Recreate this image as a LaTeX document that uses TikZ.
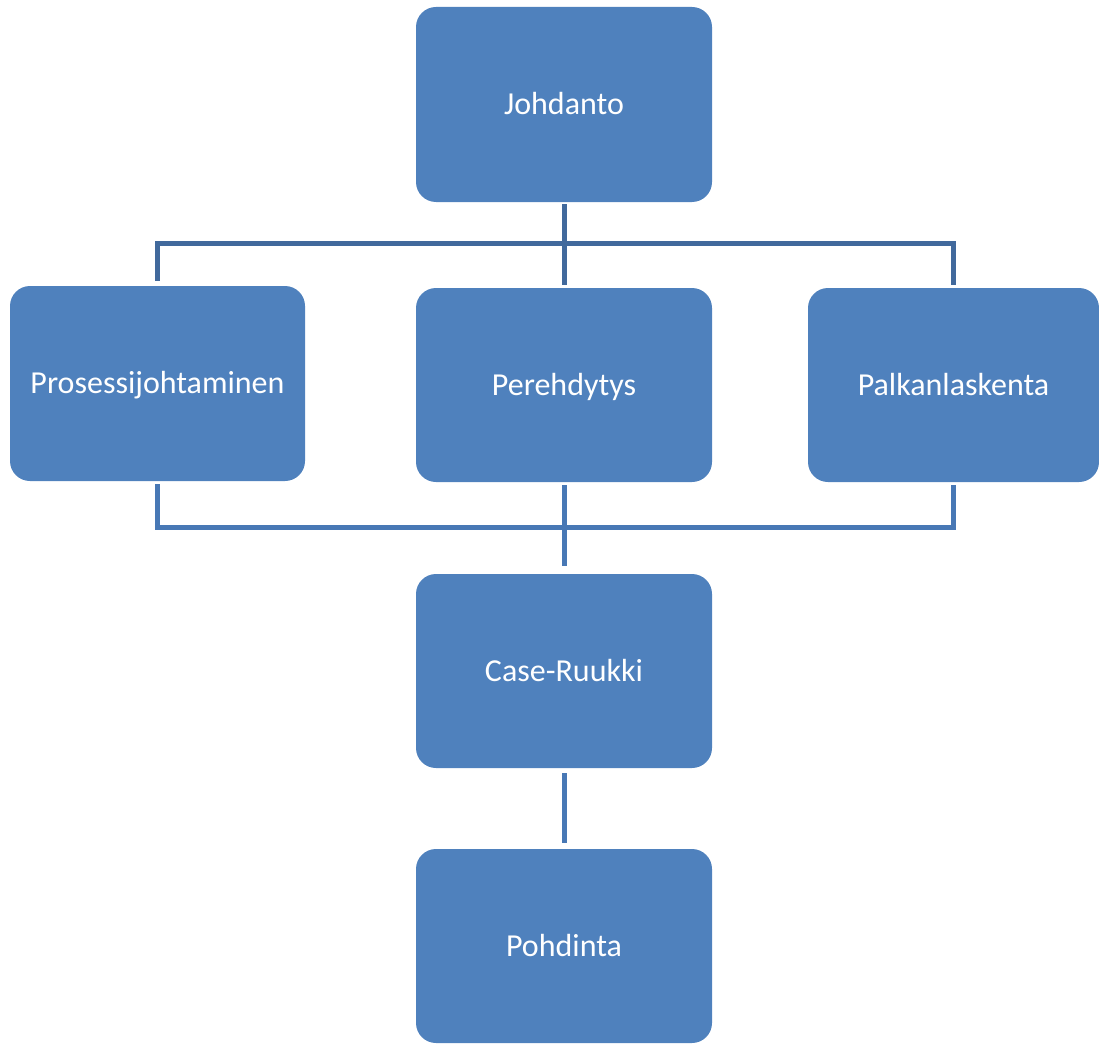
\documentclass[tikz,border=0pt]{standalone}
\usepackage{fontspec}
\setmainfont{Carlito}
\definecolor{boxblue}{HTML}{4F81BD}
\definecolor{lineA}{HTML}{41699C}
\definecolor{lineB}{HTML}{4878B5}
\begin{document}
\begin{tikzpicture}[x=1pt,y=-1pt,
  blk/.style={draw=none,fill=boxblue,rounded corners=20pt,minimum width=296pt,minimum height=195pt,inner sep=0pt,text=white,text height=24pt,text depth=4pt,font=\fontsize{32}{38}\selectfont},
  linkA/.style={draw=lineA,line width=5pt,shorten <=2pt,shorten >=3pt},
  linkB/.style={draw=lineB,line width=5pt,shorten <=3pt,shorten >=3pt}]
\useasboundingbox (0,0) rectangle (1099,1043);
\node[blk] (J) at (564,104.5) {Johdanto};
\node[blk,minimum width=295pt] (P1) at (157.5,383.5) {Prosessijohtaminen};
\node[blk,minimum height=194pt] (P2) at (564,385) {Perehdytys};
\node[blk,minimum width=291pt,minimum height=194pt] (P3) at (953.5,385) {Palkanlaskenta};
\node[blk,minimum height=194pt] (C) at (564,671) {Case-Ruukki};
\node[blk,minimum height=194pt] (D) at (564,946) {Pohdinta};
\coordinate (topbus) at (564,243);
\coordinate (botbus) at (564,527);
\draw[linkA] (J.south) -- (P2.north);
\draw[linkA,shorten <=5pt] (P1.north) |- (topbus) -| (P3.north);
\draw[linkB] (P1.south) |- (botbus) -| (P3.south);
\draw[linkB,shorten >=8pt] (P2.south) -- (C.north);
\draw[linkB,shorten <=5pt,shorten >=6pt] (C.south) -- (D.north);
\end{tikzpicture}
\end{document}
